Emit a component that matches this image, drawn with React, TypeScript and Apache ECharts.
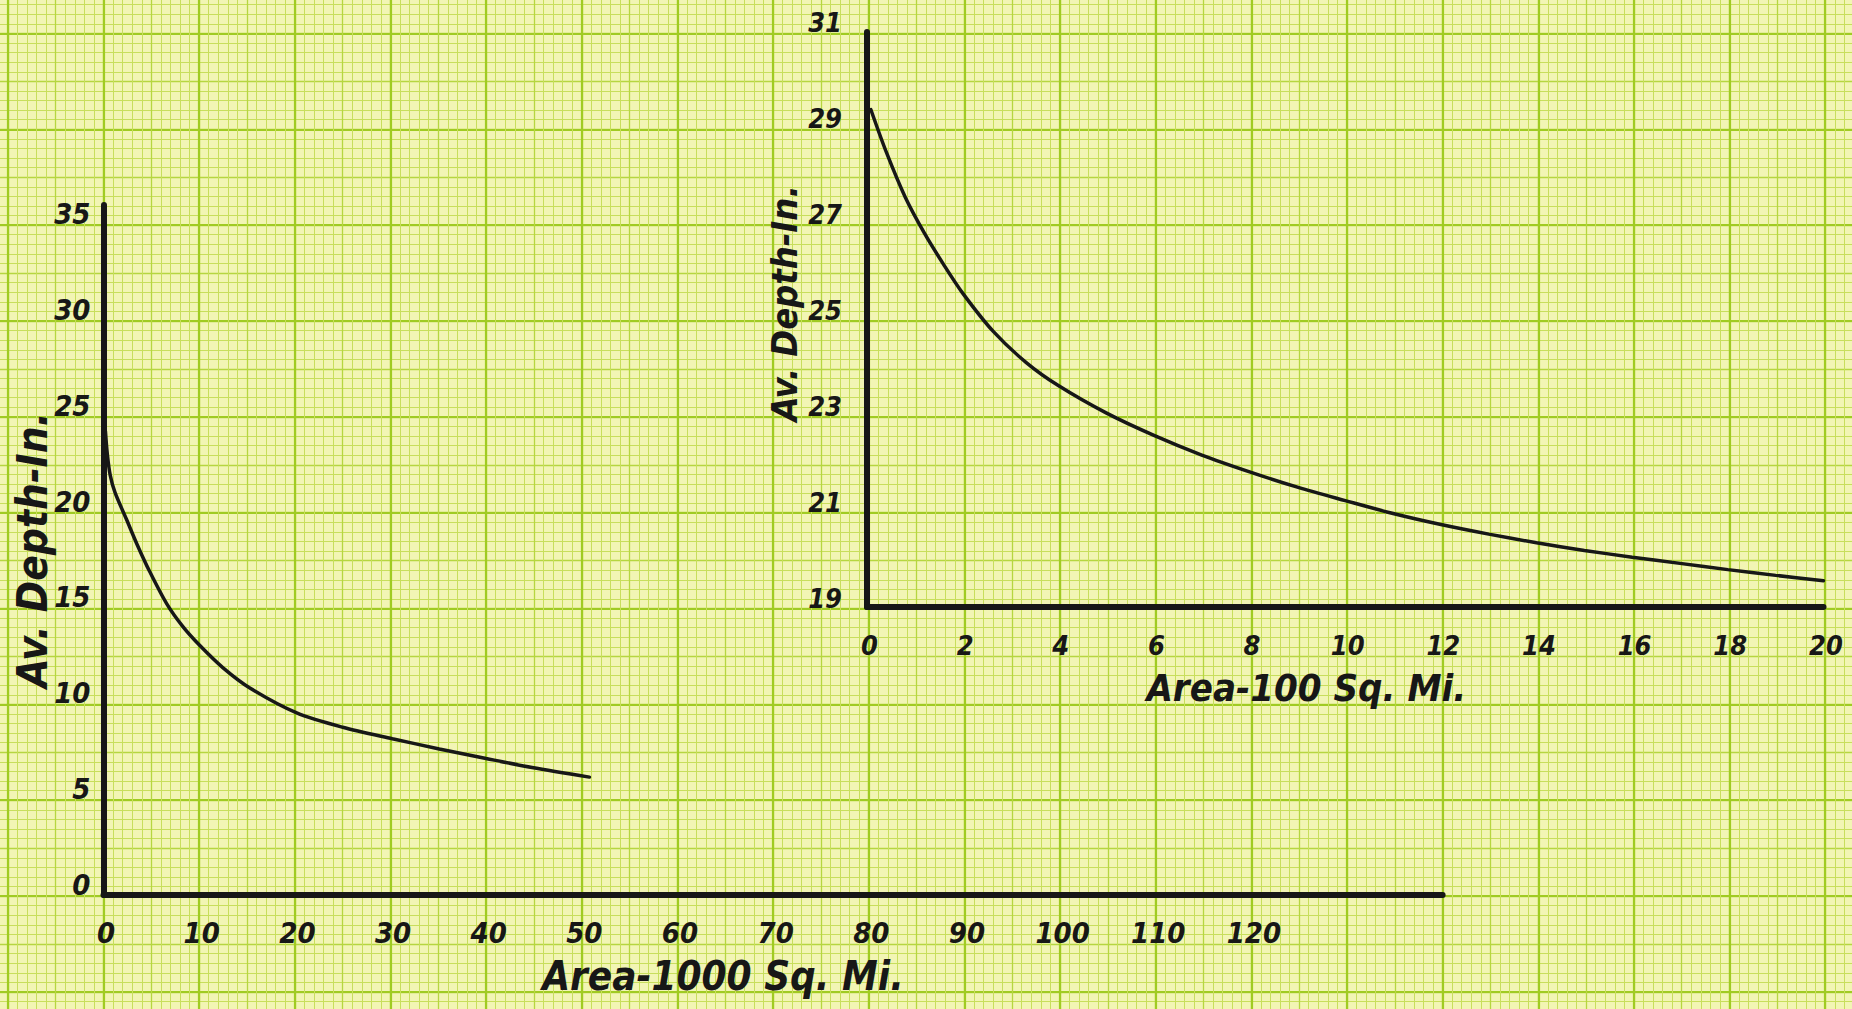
import React, { useEffect, useRef } from 'react';
import * as echarts from 'echarts';

// ---- data ----
const leftArea = [0.2, 0.4, 0.7, 1.2, 2.4, 3.5, 4.8, 6.6, 8.3, 10.1, 12.5, 15.3, 20.2, 25.0, 30.2, 35.1, 40.0, 44.8, 50.8];
const leftDepth = [24.2, 23.0, 21.9, 21.0, 19.6, 18.3, 16.9, 15.2, 14.0, 13.0, 11.85, 10.8, 9.5, 8.75, 8.15, 7.62, 7.12, 6.65, 6.15];
const rightArea = [0.08, 0.4, 0.8, 1.2, 1.6, 2, 2.64, 3.33, 4, 5, 6, 7, 8, 9, 10, 11, 12, 13, 14, 15, 16, 17, 18, 19, 20];
const rightDepth = [29.38, 28.5, 27.55, 26.8, 26.15, 25.55, 24.75, 24.1, 23.62, 23.05, 22.58, 22.17, 21.82, 21.5, 21.22, 20.95, 20.72, 20.52, 20.34, 20.18, 20.04, 19.91, 19.78, 19.66, 19.55];

const leftXTicks = [0, 10, 20, 30, 40, 50, 60, 70, 80, 90, 100, 110, 120];
const leftYTicks = [0, 5, 10, 15, 20, 25, 30, 35];
const rightXTicks = [0, 2, 4, 6, 8, 10, 12, 14, 16, 18, 20];
const rightYTicks = [19, 21, 23, 25, 27, 29, 31];

const leftXName = 'Area-1000 Sq. Mi.';
const rightXName = 'Area-100 Sq. Mi.';
const yName = 'Av. Depth-In.';

// ---- styling ----
const FONT = "'DejaVu Sans Condensed', 'Liberation Sans Narrow', 'DejaVu Sans', sans-serif";
const INK = '#171717';
const PAPER = '#f2f5b4';
const MINOR = '#c8de5c';
const MEDIUM = '#b6d640';
const MAJOR = '#a0cb22';
const PX = 95.65; // graph-paper major square width
const PY = 95.85; // graph-paper major square height
const PAPER_X0 = 7.85;
const PAPER_Y0 = 33.45;

const baseText = {
  color: INK,
  fontFamily: FONT,
  fontWeight: 'bold' as const,
  fontStyle: 'italic' as const,
};
const leftLabel = { ...baseText, fontSize: 29 };
const rightLabel = { ...baseText, fontSize: 27 };

const hiddenAxis = {
  type: 'value' as const,
  axisLine: { show: false },
  axisTick: { show: false },
  axisLabel: { show: false },
  z: 0,
};

const shiftRight = (s: string) => '\u2009' + s;

function buildOption() {
  const leftGrid = { left: 103.5, top: 895 - 36 * (PY / 5), width: 140 * (PX / 10), height: 36 * (PY / 5) };
  const rightGrid = { left: 867, top: 607 - 12 * (PY / 2), width: 20 * (PX / 2), height: 12 * (PY / 2) };
  const gridBase = { outerBoundsMode: 'none', containLabel: false, show: false };
  const inkAxisLine = { show: true, onZero: false, lineStyle: { color: INK, width: 6, cap: 'round' } };
  return {
    animation: false,
    backgroundColor: PAPER,
    grid: [
      { ...gridBase, left: PAPER_X0 - PX / 2, top: PAPER_Y0 - PY / 2, width: 41 * (PX / 2), height: 23 * (PY / 2) },
      { ...gridBase, left: PAPER_X0 - PX, top: PAPER_Y0 - PY, width: 21 * PX, height: 12 * PY },
      { ...gridBase, ...leftGrid },
      { ...gridBase, ...rightGrid },
    ],
    xAxis: [
      {
        ...hiddenAxis, gridIndex: 0, min: 0, max: 41, interval: 1,
        splitLine: { show: true, lineStyle: { color: MEDIUM, width: 1.3 } },
        minorTick: { show: false, splitNumber: 5 },
        minorSplitLine: { show: true, lineStyle: { color: MINOR, width: 1 } },
      },
      {
        ...hiddenAxis, gridIndex: 1, min: 0, max: 21, interval: 1,
        splitLine: { show: true, lineStyle: { color: MAJOR, width: 2.2 } },
      },
      {
        type: 'value', gridIndex: 2, min: 0, max: 140, interval: 10, z: 5,
        axisLine: inkAxisLine,
        axisTick: { show: false },
        splitLine: { show: false },
        axisLabel: { ...leftLabel, margin: 23, formatter: (v: number) => (leftXTicks.includes(v) ? shiftRight(String(v)) : '') },
        name: leftXName, nameLocation: 'middle', nameGap: 61, nameMoveOverlap: false,
        nameTextStyle: { ...baseText, fontSize: 40, padding: [0, 100, 0, 0] },
      },
      {
        type: 'value', gridIndex: 3, min: 0, max: 20, interval: 2, z: 5,
        axisLine: inkAxisLine,
        axisTick: { show: false },
        splitLine: { show: false },
        axisLabel: { ...rightLabel, margin: 25, formatter: (v: number) => (rightXTicks.includes(v) ? shiftRight(String(v)) : '') },
        name: rightXName, nameLocation: 'middle', nameGap: 62, nameMoveOverlap: false,
        nameTextStyle: { ...baseText, fontSize: 38, padding: [0, 78, 0, 0] },
      },
    ],
    yAxis: [
      {
        ...hiddenAxis, gridIndex: 0, min: 0, max: 23, interval: 1,
        splitLine: { show: true, lineStyle: { color: MEDIUM, width: 1.3 } },
        minorTick: { show: false, splitNumber: 5 },
        minorSplitLine: { show: true, lineStyle: { color: MINOR, width: 1 } },
      },
      {
        ...hiddenAxis, gridIndex: 1, min: 0, max: 12, interval: 1,
        splitLine: { show: true, lineStyle: { color: MAJOR, width: 2.2 } },
      },
      {
        type: 'value', gridIndex: 2, min: 0, max: 36, interval: 5, z: 5,
        axisLine: inkAxisLine,
        axisTick: { show: false },
        splitLine: { show: false },
        axisLabel: {
          ...leftLabel, margin: 13, verticalAlign: 'bottom', lineHeight: 20,
          formatter: (v: number) => (leftYTicks.includes(v) ? String(v) : ''),
        },
        name: yName, nameLocation: 'middle', nameGap: 50, nameMoveOverlap: false,
        nameTextStyle: { ...baseText, fontSize: 42 },
      },
      {
        type: 'value', gridIndex: 3, min: 19, max: 31, interval: 2, z: 5,
        axisLine: inkAxisLine,
        axisTick: { show: false },
        splitLine: { show: false },
        axisLabel: {
          ...rightLabel, margin: 25, verticalAlign: 'bottom', lineHeight: 18,
          formatter: (v: number) => (rightYTicks.includes(v) ? String(v) : ''),
        },
        name: yName, nameLocation: 'middle', nameGap: 65, nameMoveOverlap: false,
        nameTextStyle: { ...baseText, fontSize: 36, padding: [0, 0, 0, 32] },
      },
    ],
    series: [
      {
        type: 'line', xAxisIndex: 2, yAxisIndex: 2, z: 10,
        data: leftArea.map((x, i) => [x, leftDepth[i]]),
        smooth: 0.3, symbol: 'none',
        lineStyle: { color: INK, width: 3.5, cap: 'round' },
      },
      {
        type: 'line', xAxisIndex: 3, yAxisIndex: 3, z: 10,
        data: rightArea.map((x, i) => [x, rightDepth[i]]),
        smooth: 0.3, symbol: 'none',
        lineStyle: { color: INK, width: 3.5, cap: 'round' },
      },
    ],
  };
}

export default function App() {
  const ref = useRef<HTMLDivElement>(null);
  useEffect(() => {
    if (!ref.current) return;
    const chart = echarts.init(ref.current, undefined, { renderer: 'svg' });
    chart.setOption(buildOption() as any);
    return () => chart.dispose();
  }, []);
  return (
    <div
      ref={ref}
      style={{ position: 'absolute', left: 0, top: 0, width: 1852, height: 1009 }}
    />
  );
}
